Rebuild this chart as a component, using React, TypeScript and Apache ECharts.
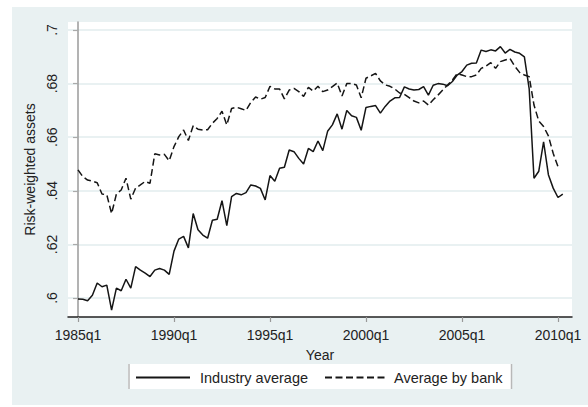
import React, { useEffect, useRef } from "react";
import * as echarts from "echarts";

// Quarter index 0 = 1985q1
const xTickValues = [0, 20, 40, 60, 80, 100];
const xTickLabels = ["1985q1", "1990q1", "1995q1", "2000q1", "2005q1", "2010q1"];
const yTickValues = [0.6, 0.62, 0.64, 0.66, 0.68, 0.7];
const yTickLabels = [".6", ".62", ".64", ".66", ".68", ".7"];

const seriesNames = ["Industry average", "Average by bank"];

// 1985q1 .. 2010q2
const industryAvg = [
  0.5996, 0.5995, 0.599, 0.601, 0.6056, 0.6042, 0.6048, 0.5955, 0.6037, 0.6027,
  0.607, 0.6037, 0.6117, 0.6104, 0.6093, 0.608, 0.6104, 0.611, 0.6104, 0.6088,
  0.6175, 0.622, 0.623, 0.6187, 0.6315, 0.6255, 0.6235, 0.6223, 0.629, 0.6294,
  0.6363, 0.627, 0.6378, 0.639, 0.6385, 0.6393, 0.6422, 0.6418, 0.6409, 0.6366,
  0.6457, 0.6436, 0.6484, 0.6488, 0.6552, 0.6546, 0.6521, 0.65, 0.6558, 0.6546,
  0.6586, 0.655, 0.6622, 0.6646, 0.6687, 0.663, 0.67, 0.668, 0.6674, 0.6626,
  0.6711, 0.6715, 0.6718, 0.669, 0.6715, 0.6735, 0.6747, 0.6748, 0.6788, 0.678,
  0.6776, 0.6778, 0.6789, 0.6757, 0.6794, 0.68, 0.6798, 0.6792, 0.6808, 0.6832,
  0.6845, 0.6869, 0.6876, 0.6877, 0.6925, 0.692, 0.6926, 0.6922, 0.6938, 0.6914,
  0.6928, 0.6918, 0.6913, 0.69, 0.678, 0.6447, 0.6473, 0.6583, 0.646, 0.641,
  0.6375, 0.6388,
];

// 1985q1 .. 2010q1
const bankAvg = [
  0.6478, 0.6453, 0.644, 0.6436, 0.643, 0.6388, 0.6385, 0.6315, 0.6388, 0.6403,
  0.6447, 0.6369, 0.641, 0.6422, 0.6435, 0.6428, 0.6538, 0.6534, 0.6536, 0.6512,
  0.6565, 0.6602, 0.6627, 0.6588, 0.6643, 0.663, 0.6627, 0.6628, 0.6652, 0.667,
  0.6697, 0.6646, 0.6707, 0.6712, 0.6706, 0.67, 0.673, 0.675, 0.6742, 0.6748,
  0.679, 0.678, 0.678, 0.6743, 0.6776, 0.6782, 0.677, 0.6752, 0.6786, 0.6772,
  0.679, 0.677, 0.6776, 0.6789, 0.6802, 0.6754, 0.68, 0.6801, 0.6795, 0.6747,
  0.682, 0.6829, 0.6838, 0.681, 0.6795, 0.679, 0.678, 0.6765, 0.676, 0.6748,
  0.6735, 0.6728, 0.6735, 0.672, 0.674, 0.6757, 0.6776, 0.6795, 0.6813, 0.6838,
  0.6832, 0.6826, 0.6826, 0.6832, 0.6857, 0.6865, 0.6878, 0.6857, 0.6882, 0.6888,
  0.6894, 0.6865, 0.6842, 0.6832, 0.6826, 0.672, 0.666, 0.664, 0.6605, 0.654,
  0.649,
];

const FONT = "'Liberation Sans', Arial, Helvetica, sans-serif";
const PANEL = "#e9f1f2";

export default function App() {
  const ref = useRef<HTMLDivElement>(null);

  useEffect(() => {
    if (!ref.current) return;
    const chart = echarts.init(ref.current, undefined, { renderer: "svg" });

    const W = 588;
    const H = 407;
    const gl = 68, gt = 22, gr = 16, gb = 90;

    const toPairs = (arr: number[]) => arr.map((v, i) => [i, v]);

    const legendCommon = {
      top: 370,
      padding: 0,
      itemHeight: 14,
      itemStyle: { opacity: 0, borderWidth: 0 },
      textStyle: { fontSize: 14.5, color: "#222", fontFamily: FONT },
    };

    const option: any = {
      animation: false,
      backgroundColor: "#ffffff",
      textStyle: { fontFamily: FONT },
      graphic: [
        { type: "rect", z: -30, shape: { x: 12, y: 7, width: W - 12, height: 398 }, style: { fill: PANEL } },
        { type: "rect", z: -29, shape: { x: gl, y: gt, width: W - gl - gr, height: H - gt - gb }, style: { fill: "#ffffff" } },
        { type: "rect", z: -28, shape: { x: 128, y: 364, width: 384, height: 25 }, style: { fill: "#ffffff" } },
        { type: "line", z: -27, shape: { x1: 129, y1: 364, x2: 129, y2: 389 }, style: { stroke: "#b8b8b8", lineWidth: 1.5 } },
        { type: "line", z: -27, shape: { x1: 511.5, y1: 364, x2: 511.5, y2: 389 }, style: { stroke: "#b8b8b8", lineWidth: 1.5 } },
      ],
      grid: { left: gl, top: gt, right: gr, bottom: gb, containLabel: false },
      legend: [
        {
          ...legendCommon,
          data: [seriesNames[0]],
          left: 135,
          itemWidth: 54,
          textStyle: { ...legendCommon.textStyle, padding: [0, 0, 0, 5] },
        },
        {
          ...legendCommon,
          data: [seriesNames[1]],
          left: 324,
          itemWidth: 63,
          textStyle: { ...legendCommon.textStyle, padding: [0, 0, 0, 1] },
        },
      ],
      xAxis: {
        type: "value",
        min: -2.083,
        max: 102.92,
        name: "Year",
        nameLocation: "middle",
        nameGap: 31,
        nameTextStyle: { fontSize: 14, color: "#222", fontFamily: FONT },
        axisLine: { show: true, onZero: false, lineStyle: { color: "#222", width: 1.5 } },
        axisTick: { show: true, length: 5, customValues: xTickValues, lineStyle: { color: "#999", width: 1.2 } },
        axisLabel: {
          customValues: xTickValues,
          margin: 11,
          fontSize: 14,
          color: "#222",
          fontFamily: FONT,
          formatter: (v: number) => {
            const k = xTickValues.indexOf(Math.round(v));
            return k >= 0 ? xTickLabels[k] : "";
          },
        },
        splitLine: { show: false },
      },
      yAxis: {
        type: "value",
        min: 0.59291,
        max: 0.70299,
        name: "Risk-weighted assets",
        nameLocation: "middle",
        nameRotate: 90,
        nameGap: 20,
        nameTextStyle: { fontSize: 14, color: "#222", fontFamily: FONT },
        axisLine: { show: true, lineStyle: { color: "#9a9a9a", width: 1.5 } },
        axisTick: { show: true, length: 5, customValues: yTickValues, lineStyle: { color: "#aaa", width: 1.2 } },
        axisLabel: {
          customValues: yTickValues,
          rotate: 90,
          margin: 9,
          fontSize: 14,
          color: "#222",
          fontFamily: FONT,
          formatter: (v: number) => {
            const k = yTickValues.findIndex((t) => Math.abs(t - v) < 1e-6);
            return k >= 0 ? yTickLabels[k] : "";
          },
        },
        splitLine: { show: true, lineStyle: { color: PANEL, width: 2 } },
      },
      series: [
        {
          name: seriesNames[0],
          type: "line",
          data: toPairs(industryAvg),
          symbol: "none",
          showSymbol: false,
          lineStyle: { color: "#151515", width: 1.5, type: "solid" },
          itemStyle: { color: "#151515" },
        },
        {
          name: seriesNames[1],
          type: "line",
          data: toPairs(bankAvg),
          symbol: "none",
          showSymbol: false,
          lineStyle: { color: "#151515", width: 1.5, type: [7, 3.5] },
          itemStyle: { color: "#151515" },
        },
      ],
    };

    chart.setOption(option);
    return () => chart.dispose();
  }, []);

  return (
    <div
      ref={ref}
      style={{ position: "absolute", left: 0, top: 0, width: 588, height: 407 }}
    />
  );
}
